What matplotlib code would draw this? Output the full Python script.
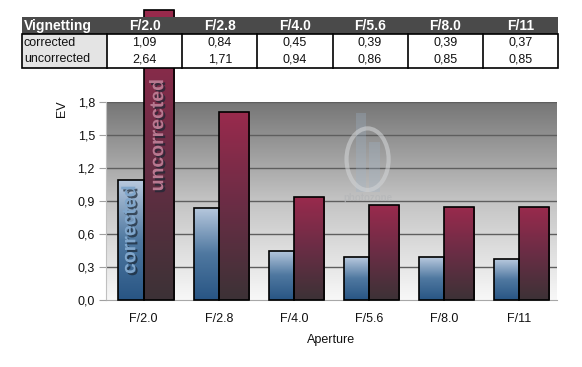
import numpy as np
import matplotlib.pyplot as plt
import matplotlib.patheffects as pe
from matplotlib.colors import LinearSegmentedColormap
from matplotlib.patches import Rectangle, Ellipse

plt.rcParams['font.family'] = ['Liberation Sans', 'DejaVu Sans']

apertures = ['F/2.0', 'F/2.8', 'F/4.0', 'F/5.6', 'F/8.0', 'F/11']
corrected = [1.09, 0.84, 0.45, 0.39, 0.39, 0.37]
uncorrected = [2.64, 1.71, 0.94, 0.86, 0.85, 0.85]
series_names = ['corrected', 'uncorrected']
yticks = [0.0, 0.3, 0.6, 0.9, 1.2, 1.5, 1.8]

W, H = 582, 367
fig = plt.figure(figsize=(W / 100, H / 100), dpi=100)
fig.patch.set_facecolor('white')

# plot area in pixels: x 106..557, y 102..300
ax = fig.add_axes([106 / W, 67 / H, 451 / W, 198 / H])
x = np.arange(len(apertures))

# grey background gradient
bg = LinearSegmentedColormap.from_list('bg', ['#f8f8f8', '#c4c4c4', '#767676'])
ax.imshow(np.linspace(0, 1, 256).reshape(-1, 1), cmap=bg, aspect='auto',
          extent=(-0.5, 5.5, 0, 1.8), origin='lower', zorder=0)

for t in yticks[1:]:
    ax.axhline(t, color='#5e5e5e', lw=1, zorder=1)

blue = LinearSegmentedColormap.from_list('b', ['#285584', '#4f78a0', '#b8c9de'])
red = LinearSegmentedColormap.from_list('r', ['#3c3236', '#6a2d45', '#9a2a4d'])
grad = np.linspace(0, 1, 256).reshape(-1, 1)

def gradient_bars(lefts, heights, width, cmap):
    bars = ax.bar(lefts, heights, width=width, align='edge', facecolor='none',
                  edgecolor='black', lw=1.2, zorder=4, clip_on=False)
    for b in bars:
        x0, w, h = b.get_x(), b.get_width(), b.get_height()
        im = ax.imshow(grad, cmap=cmap, aspect='auto', origin='lower',
                       extent=(x0, x0 + w, 0, h), zorder=3)
        im.set_clip_path(b)
    return bars

gradient_bars(x - 0.335, corrected, 0.335, blue)
gradient_bars(x, uncorrected, 0.4, red)
ax.set_xlim(-0.5, len(apertures) - 0.5)
ax.set_ylim(0, 1.8)

# labels inside first group
shadow = [pe.withSimplePatchShadow(offset=(1.5, -1.5), shadow_rgbFace='#1a2633', alpha=0.7)]
ax.text(-0.17, 0.64, series_names[0], rotation=90, ha='center', va='center',
        fontsize=14, fontweight='bold', color='#80a6cb', zorder=6, path_effects=shadow)
ax.text(0.2, 1.5, series_names[1], rotation=90, ha='center', va='center',
        fontsize=14, fontweight='bold', color='#b87890', zorder=6, clip_on=False,
        path_effects=shadow)

# faint watermark
ax.add_patch(Rectangle((2.82, 0.98), 0.14, 0.72, fc='#9fb4c8', alpha=0.3, zorder=2))
ax.add_patch(Rectangle((3.0, 0.98), 0.14, 0.46, fc='#9fb4c8', alpha=0.3, zorder=2))
ax.add_patch(Ellipse((2.98, 1.28), 0.56, 0.56, fill=False, ec='#d0d2d4', lw=3, alpha=0.6, zorder=2))
ax.text(2.98, 0.93, 'photozone', ha='center', va='center', fontsize=7,
        fontweight='bold', color='#b4b6b8', alpha=0.7, zorder=2)

ax.set_xticks(x)
ax.set_xticklabels(apertures, fontsize=9, color='#111111')
ax.tick_params(axis='x', length=0, pad=9)
ax.set_yticks(yticks)
ax.set_yticklabels([f'{t:.1f}'.replace('.', ',') for t in yticks], fontsize=9, color='#111111')
ax.tick_params(axis='y', length=5, color='#a0a0a0', pad=3)
for s in ['top', 'right']:
    ax.spines[s].set_visible(False)
ax.spines['left'].set_color('#c0c0c0')
ax.spines['bottom'].set_color('#a8a8a8')
ax.set_xlabel('Aperture', fontsize=9, color='#111111', labelpad=7)
fig.text(62 / W, 1 - 109 / H, 'EV', rotation=90, ha='center', va='center',
         fontsize=9, color='#111111')

# table overlay in pixel coordinates
tax = fig.add_axes([0, 0, 1, 1], zorder=10)
tax.set_xlim(0, W)
tax.set_ylim(H, 0)
tax.axis('off')
edges = np.linspace(107, 558, len(apertures) + 1)
top, r1, r2, bot = 17, 34, 51, 68
tax.add_patch(Rectangle((22, top), 558 - 22, r1 - top, fc='#4a4a4a', ec='none'))
tax.add_patch(Rectangle((22, r1), 107 - 22, bot - r1, fc='#e4e4e4', ec='none'))
tax.add_patch(Rectangle((107, r1), 558 - 107, bot - r1, fc='white', ec='none'))
tax.add_patch(Rectangle((22, r1), 558 - 22, bot - r1, fc='none', ec='black', lw=1.2))
for e in edges[:-1]:
    tax.plot([e, e], [r1, bot], color='black', lw=1.2)
tax.text(24, (top + r1) / 2 + 0.5, 'Vignetting', ha='left', va='center', color='white',
         fontsize=10, fontweight='bold')
for i, a in enumerate(apertures):
    cx = (edges[i] + edges[i + 1]) / 2
    tax.text(cx, (top + r1) / 2 + 0.5, a, ha='center', va='center', color='white',
             fontsize=10, fontweight='bold')
    tax.text(cx, (r1 + r2) / 2, f'{corrected[i]:.2f}'.replace('.', ','),
             ha='center', va='center', fontsize=9, color='#111111')
    tax.text(cx, (r2 + bot) / 2, f'{uncorrected[i]:.2f}'.replace('.', ','),
             ha='center', va='center', fontsize=9, color='#111111')
tax.text(24, (r1 + r2) / 2, series_names[0], ha='left', va='center', fontsize=9, color='#111111')
tax.text(24, (r2 + bot) / 2, series_names[1], ha='left', va='center', fontsize=9, color='#111111')

fig.savefig('out.png', dpi=100)
